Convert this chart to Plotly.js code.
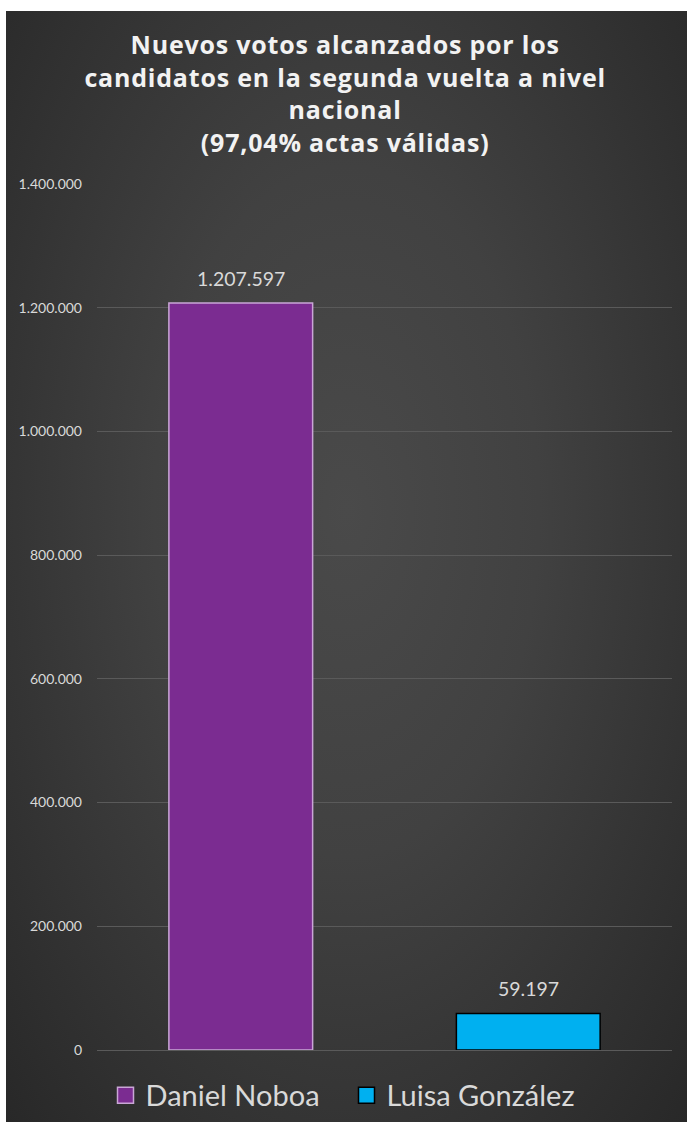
<!DOCTYPE html>
<html>
<head>
<meta charset="utf-8">
<script src="https://cdn.plot.ly/plotly-3.0.1.min.js"></script>
<style>
  html, body { margin: 0; padding: 0; background: #ffffff; width: 687px; height: 1122px; overflow: hidden; }
  #frame {
    position: absolute; left: 6px; top: 11px; width: 681px; height: 1111px;
    background: radial-gradient(ellipse at 50% 45%, #4a4a4a 0%, #414141 40%, #282828 100%);
  }
  #chart { position: absolute; left: 0; top: 0; width: 681px; height: 1111px; }
</style>
</head>
<body>
<div id="frame"><div id="chart"></div></div>
<script>
const categories = ["Daniel Noboa", "Luisa González"];
const votes = [1207597, 59197];
const barColors = ["#7B2C91", "#00B0F0"];
const borderColors = ["#C9A6D6", "#000000"];
const titleText = "<b>Nuevos votos alcanzados por los<br>candidatos en la segunda vuelta a nivel<br>nacional<br>(97,04% actas válidas)</b>";

const fmt = v => String(v).replace(/\B(?=(\d{3})+(?!\d))/g, ".");

const traces = categories.map((c, i) => ({
  type: "bar",
  name: c,
  x: [c],
  y: [votes[i]],
  marker: { color: barColors[i], line: { color: borderColors[i], width: 1.5 } },
  hoverinfo: "none"
}));

const annotations = categories.map((c, i) => ({
  x: c, y: votes[i], xref: "x", yref: "y",
  text: fmt(votes[i]), showarrow: false,
  yanchor: "bottom", yshift: 11,
  font: { family: "Lato, 'Open Sans', sans-serif", size: 19.5, color: "#D9D9D9" }
}));

annotations.push({
  text: titleText, showarrow: false,
  xref: "paper", yref: "paper", x: 0.5, y: 1.184,
  xanchor: "center", yanchor: "top", align: "center",
  xshift: -40,
  font: { family: "'Open Sans', sans-serif", size: 25, color: "#F2F2F2" }
});

const layout = {
  width: 681, height: 1111,
  paper_bgcolor: "rgba(0,0,0,0)",
  plot_bgcolor: "rgba(0,0,0,0)",
  separators: ",.",
  margin: { l: 91, r: 15, t: 173, b: 72 },
  barmode: "overlay",
  bargap: 0.5,
  xaxis: {
    type: "category",
    showticklabels: false,
    showgrid: false, zeroline: false, showline: false, ticks: ""
  },
  yaxis: {
    range: [0, 1400000],
    dtick: 200000,
    tickformat: ",d",
    gridcolor: "#5A5A5A", gridwidth: 1,
    zeroline: true, zerolinecolor: "#5A5A5A", zerolinewidth: 1,
    showline: false, ticks: "",
    ticklabelstandoff: 14,
    tickfont: { family: "Lato, 'Open Sans', sans-serif", size: 14, color: "#D9D9D9" }
  },
  showlegend: true,
  legend: {
    orientation: "h",
    xref: "container", yref: "container",
    x: 0.5, xanchor: "center", y: 0.024, yanchor: "middle",
    font: { family: "Lato, 'Open Sans', sans-serif", size: 29, color: "#D9D9D9" },
    bgcolor: "rgba(0,0,0,0)", itemwidth: 30,
    entrywidth: 196, entrywidthmode: "pixels"
  },
  annotations: annotations
};

Plotly.newPlot("chart", traces, layout, { displayModeBar: false, staticPlot: true }).then(gd => {
  gd.querySelectorAll(".annotation-text").forEach(t => {
    if (t.textContent.indexOf("Nuevos") === 0) t.style.letterSpacing = "0.8px";
  });
  gd.querySelectorAll(".legendpoints path").forEach(p => {
    p.setAttribute("d", "M8,8H-8V-8H8Z");
  });
});
</script>
</body>
</html>
